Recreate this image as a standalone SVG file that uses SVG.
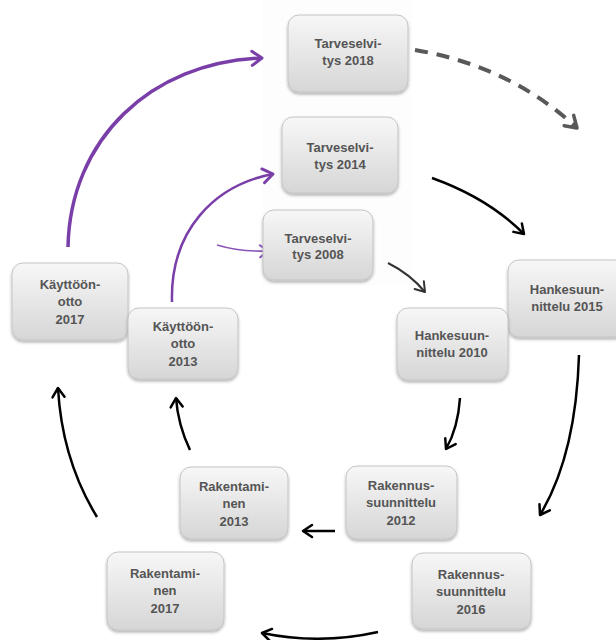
<svg xmlns="http://www.w3.org/2000/svg" width="616" height="640" viewBox="0 0 616 640">
<defs>
<linearGradient id="g" x1="0" y1="0" x2="0" y2="1">
<stop offset="0" stop-color="#f7f7f7"/>
<stop offset="1" stop-color="#d6d6d6"/>
</linearGradient>
<filter id="sh" x="-10%" y="-10%" width="130%" height="130%">
<feDropShadow dx="0" dy="2" stdDeviation="1.5" flood-color="#000" flood-opacity="0.3"/>
</filter>
<marker id="ab" markerUnits="userSpaceOnUse" markerWidth="16" markerHeight="16" refX="0" refY="0" viewBox="-12 -8 16 16" orient="auto">
<path d="M-9,-6 L0,0 L-9,6" fill="none" stroke="#000" stroke-width="2.5" stroke-linecap="round" stroke-linejoin="round"/>
</marker>
<marker id="ag" markerUnits="userSpaceOnUse" markerWidth="20" markerHeight="20" refX="0" refY="0" viewBox="-14 -10 20 20" orient="auto">
<path d="M-11,-7 L0,0 L-11,7" fill="none" stroke="#595959" stroke-width="3.5" stroke-linecap="round" stroke-linejoin="round"/>
</marker>
<marker id="ad" markerUnits="userSpaceOnUse" markerWidth="16" markerHeight="16" refX="0" refY="0" viewBox="-12 -8 16 16" orient="auto">
<path d="M-9,-6 L0,0 L-9,6" fill="none" stroke="#333" stroke-width="2" stroke-linecap="round" stroke-linejoin="round"/>
</marker>
<marker id="ap" markerUnits="userSpaceOnUse" markerWidth="18" markerHeight="18" refX="0" refY="0" viewBox="-13 -9 18 18" orient="auto">
<path d="M-10,-7 L0,0 L-10,7" fill="none" stroke="#7a3ea8" stroke-width="3" stroke-linecap="round" stroke-linejoin="round"/>
</marker>
<marker id="ap2" markerUnits="userSpaceOnUse" markerWidth="16" markerHeight="16" refX="0" refY="0" viewBox="-12 -8 16 16" orient="auto">
<path d="M-8,-6 L0,0 L-8,6" fill="none" stroke="#8a55b8" stroke-width="2" stroke-linecap="round" stroke-linejoin="round"/>
</marker>
</defs>
<style>
.box{fill:url(#g);stroke:#c4c4c4;stroke-width:1;filter:url(#sh)}
.t{font-family:"Liberation Sans",Arial,sans-serif;font-weight:bold;font-size:13px;fill:#555;text-anchor:middle}
.blk{fill:none;stroke:#000;stroke-width:2.5;marker-end:url(#ab)}
.pur{fill:none;stroke:#7a3ea8;marker-end:url(#ap)}
</style>
<rect x="0" y="0" width="616" height="640" fill="#fff"/>
<rect x="262" y="0" width="150" height="285" fill="#fdfdfd"/>

<g id="connectors">
<path d="M415,50 Q510,66 577,128" fill="none" stroke="#595959" stroke-width="4" stroke-dasharray="13,9" marker-end="url(#ag)"/>
<path class="blk" d="M432,178 Q488,198 524,234"/>
<path d="M388,263 Q410,274 425,292" fill="none" stroke="#333" stroke-width="2" marker-end="url(#ad)"/>
<path class="blk" d="M579,355 Q576,455 540,515"/>
<path class="blk" d="M460,398 Q458,428 446,449"/>
<path class="blk" d="M335,531 L303,531"/>
<path class="blk" d="M378,632 Q320,645 262,633"/>
<path class="blk" d="M97,517 Q62,460 58,388"/>
<path class="blk" d="M190,450 Q178,425 176,398"/>
<path class="pur" stroke-width="3.5" d="M68,247 C70,140 150,62 262,58"/>
<path class="pur" stroke-width="2.5" d="M172,302 C170,230 215,185 273,174"/>
<path d="M217,245 Q240,252 268,251" fill="none" stroke="#8a55b8" stroke-width="1.6" marker-end="url(#ap2)"/>
</g>

<g id="n-tarve2018">
<rect class="box" x="288" y="15" width="120" height="77" rx="11"/>
<text class="t" x="348" y="48">Tarveselvi-</text>
<text class="t" x="348" y="65">tys 2018</text>
</g>
<g id="n-tarve2014">
<rect class="box" x="282" y="117" width="116" height="76" rx="11"/>
<text class="t" x="340" y="152">Tarveselvi-</text>
<text class="t" x="340" y="169">tys 2014</text>
</g>
<g id="n-tarve2008">
<rect class="box" x="263" y="210" width="110" height="70" rx="11"/>
<text class="t" x="318" y="243">Tarveselvi-</text>
<text class="t" x="318" y="259">tys 2008</text>
</g>
<g id="n-hanke2015">
<rect class="box" x="508" y="260" width="118" height="77" rx="11"/>
<text class="t" x="567" y="294">Hankesuun-</text>
<text class="t" x="567" y="311">nittelu 2015</text>
</g>
<g id="n-hanke2010">
<rect class="box" x="397" y="308" width="111" height="72" rx="11"/>
<text class="t" x="452" y="340">Hankesuun-</text>
<text class="t" x="452" y="357">nittelu 2010</text>
</g>
<g id="n-kaytto2017">
<rect class="box" x="12" y="263" width="116" height="77" rx="11"/>
<text class="t" x="70" y="289">Käyttöön-</text>
<text class="t" x="70" y="306">otto</text>
<text class="t" x="70" y="324">2017</text>
</g>
<g id="n-kaytto2013">
<rect class="box" x="128" y="308" width="110" height="71" rx="11"/>
<text class="t" x="183" y="331">Käyttöön-</text>
<text class="t" x="183" y="348">otto</text>
<text class="t" x="183" y="366">2013</text>
</g>
<g id="n-raken2013">
<rect class="box" x="180" y="467" width="108" height="72" rx="11"/>
<text class="t" x="234" y="491">Rakentami-</text>
<text class="t" x="234" y="508">nen</text>
<text class="t" x="234" y="526">2013</text>
</g>
<g id="n-raken2017">
<rect class="box" x="107" y="552" width="117" height="78" rx="11"/>
<text class="t" x="165" y="578">Rakentami-</text>
<text class="t" x="165" y="595">nen</text>
<text class="t" x="165" y="613">2017</text>
</g>
<g id="n-rakennus2012">
<rect class="box" x="346" y="466" width="111" height="73" rx="11"/>
<text class="t" x="401" y="490">Rakennus-</text>
<text class="t" x="401" y="507">suunnittelu</text>
<text class="t" x="401" y="525">2012</text>
</g>
<g id="n-rakennus2016">
<rect class="box" x="412" y="553" width="119" height="76" rx="11"/>
<text class="t" x="471" y="579">Rakennus-</text>
<text class="t" x="471" y="596">suunnittelu</text>
<text class="t" x="471" y="614">2016</text>
</g>
</svg>
